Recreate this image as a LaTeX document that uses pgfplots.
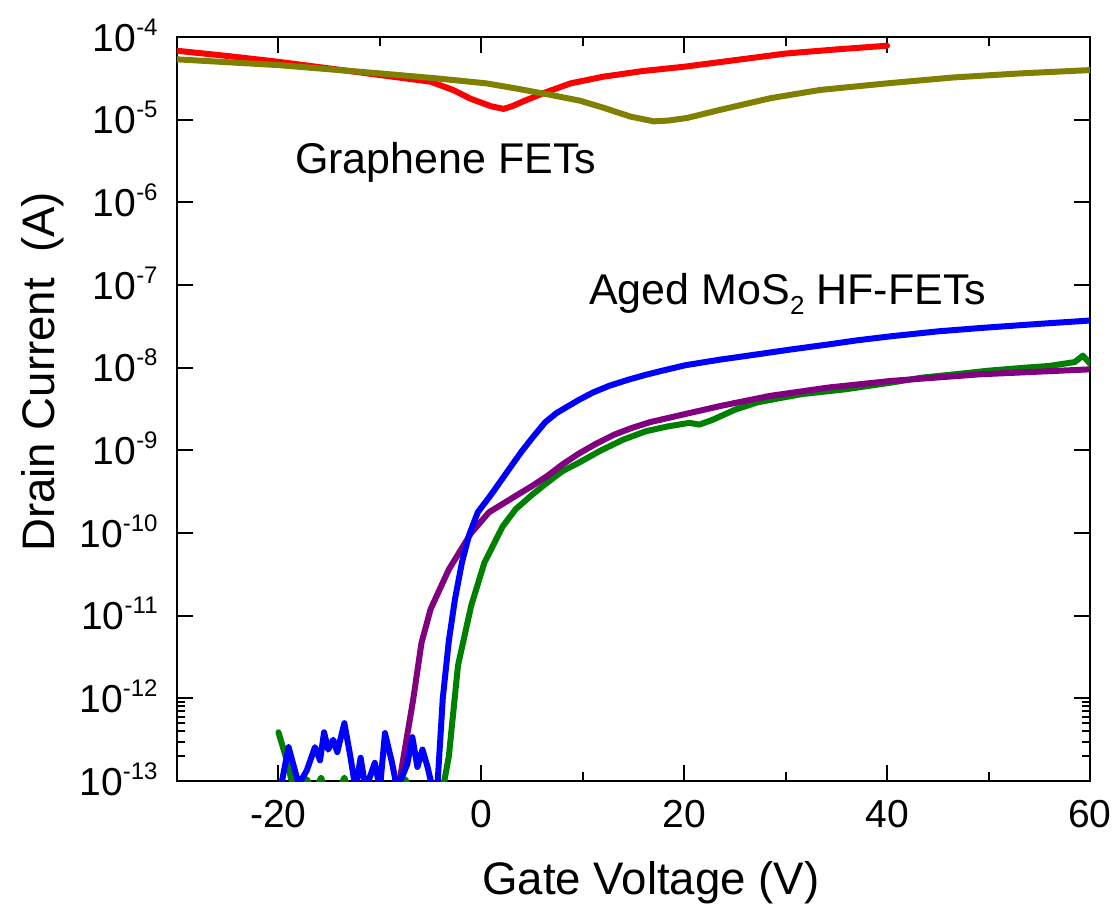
\documentclass[border=0pt]{standalone}
\usepackage{fontspec}
\setmainfont{Liberation Sans}
\usepackage{pgfplots}
\pgfplotsset{compat=1.18}

\definecolor{grred}{RGB}{255,0,0}
\definecolor{grolive}{RGB}{128,128,0}
\definecolor{mosblue}{RGB}{0,0,255}
\definecolor{mosgreen}{RGB}{0,128,0}
\definecolor{mospurple}{RGB}{128,0,128}

\newcommand{\expo}[1]{\raisebox{8pt}{\fontsize{12}{12}\selectfont #1}}
\tikzset{tickline/.style={black, line width=1pt, line cap=butt}}

\begin{document}
\begin{tikzpicture}
\begin{axis}[
  at={(0,0)}, anchor=south west,
  scale only axis,
  width=456.5pt, height=372pt,
  ymode=log, log basis y=10,
  xmin=-30, xmax=60,
  ymin=1e-13, ymax=1e-4,
  xtick={-20,0,20,40,60},
  xticklabels={-20,0,20,40,60},
  minor xtick={-10,10,30,50},
  ytickten={-13,-12,-11,-10,-9,-8,-7,-6,-5,-4},
  yticklabels={10\expo{-13},10\expo{-12},10\expo{-11},10\expo{-10},10\expo{-9},10\expo{-8},10\expo{-7},10\expo{-6},10\expo{-5},10\expo{-4}},
  tick label style={font=\fontsize{19.5}{22}\selectfont, inner sep=0pt},
  xticklabel style={anchor=north, yshift=-9.5pt},
  yticklabel style={anchor=base east, xshift=-9.5pt, yshift=-7pt},
  axis line style={line width=1.2pt},
  xlabel={Gate Voltage (V)},
  ylabel={Drain Current~ (A)},
  label style={font=\fontsize{22.8}{26}\selectfont},
  xlabel style={at={(axis description cs:0.519,-0.153)}, anchor=base},
  ylabel style={at={(axis description cs:-0.134,0.55)}, anchor=base},
  every axis plot/.append style={line width=3pt, line join=round, line cap=round},
]
% tick marks on all four sides (major 8pt, minor 4-4.5pt)
\pgfplotsinvokeforeach{-20,0,20,40}{
  \draw[tickline] (rel axis cs:{(#1+30)/90},0) -- (rel axis cs:{(#1+30)/90},0.0215);
  \draw[tickline] (rel axis cs:{(#1+30)/90},1) -- (rel axis cs:{(#1+30)/90},0.9785);
}
\pgfplotsinvokeforeach{-10,10,30,50}{
  \draw[tickline] (rel axis cs:{(#1+30)/90},0) -- (rel axis cs:{(#1+30)/90},0.0121);
  \draw[tickline] (rel axis cs:{(#1+30)/90},1) -- (rel axis cs:{(#1+30)/90},0.9879);
}
\pgfplotsinvokeforeach{1,2,3,4,5,6,7,8}{
  \draw[tickline] (rel axis cs:0,{#1/9}) -- (rel axis cs:0.0175,{#1/9});
  \draw[tickline] (rel axis cs:1,{#1/9}) -- (rel axis cs:0.9825,{#1/9});
}
\pgfplotsinvokeforeach{0,1,2,3,4,5,6,7,8}{
  \pgfplotsinvokeforeach{0.301,0.477,0.602,0.699,0.778,0.845,0.903,0.954}{
    \draw[tickline] (rel axis cs:0,{(#1+##1)/9}) -- (rel axis cs:0.0088,{(#1+##1)/9});
    \draw[tickline] (rel axis cs:1,{(#1+##1)/9}) -- (rel axis cs:0.9912,{(#1+##1)/9});
  }
}
% graphene FET 1
\addplot[grred] coordinates {
(-30,6.82e-5) (-25,5.89e-5) (-20,5.01e-5) (-15,4.17e-5) (-10,3.47e-5)
(-5,2.88e-5) (-2.8,2.29e-5) (-1,1.78e-5) (1,1.45e-5) (2.2,1.35e-5)
(3,1.45e-5) (4.1,1.66e-5) (6.1,2.09e-5) (8.8,2.75e-5) (12,3.31e-5)
(16,3.89e-5) (20,4.37e-5) (25,5.25e-5) (30,6.31e-5) (35,7.08e-5) (40,7.85e-5)
};
% graphene FET 2
\addplot[grolive] coordinates {
(-30,5.37e-5) (-20,4.57e-5) (-10,3.63e-5) (-4.4,3.16e-5) (0.5,2.75e-5)
(3.8,2.34e-5) (6.4,2.04e-5) (9.7,1.70e-5) (12,1.40e-5) (14.7,1.09e-5)
(17,9.55e-6) (18.5,9.77e-6) (20.3,1.05e-5) (23.6,1.32e-5) (28.5,1.82e-5)
(33.4,2.29e-5) (40,2.75e-5) (46.5,3.24e-5) (53.1,3.63e-5) (60,3.98e-5)
};
% aged MoS2 HF-FET, green
\addplot[mosgreen] coordinates {
(-20,3.89e-13) (-19.3,2e-13) (-18.6,9e-14) (-18,7e-14) (-17.2,1.05e-13)
(-16.5,7e-14) (-15.8,1.1e-13) (-15.2,7e-14) (-14,8e-14) (-13.5,1.1e-13)
(-13,7e-14) (-12,6e-14) (-9,7e-14) (-8.3,1.05e-13) (-7.9,8e-14)
(-7.5,1.05e-13) (-6.5,6e-14) (-4,7e-14) (-3.65,1e-13) (-3.2,2e-13)
(-2.3,2.5e-12) (-1,1.32e-11) (0.3,4.37e-11) (2.1,1.2e-10) (3.4,1.95e-10)
(5,2.9e-10) (6.5,4.07e-10) (8,5.6e-10) (9.6,7.08e-10) (11.8,1.0e-9)
(14,1.35e-9) (16.2,1.7e-9) (18.4,1.95e-9) (20.5,2.15e-9) (21.5,2.05e-9)
(22.8,2.34e-9) (25,3.1e-9) (27.2,3.8e-9) (29.5,4.3e-9) (31.6,4.79e-9) (36,5.5e-9)
(40.4,6.6e-9) (43.5,7.6e-9) (46.6,8.3e-9) (50,9.2e-9) (53.6,1e-8) (56,1.05e-8)
(58.5,1.17e-8) (59.3,1.4e-8) (60,1.12e-8)
};
% aged MoS2 HF-FET, purple
\addplot[mospurple] coordinates {
(-9,6e-14) (-8.06,1e-13) (-6.7,1e-12) (-5.9,4.68e-12) (-5,1.2e-11)
(-3.2,3.63e-11) (-1,1e-10) (0.75,1.78e-10) (3.4,2.82e-10) (5,3.7e-10)
(6.5,4.9e-10) (8,6.76e-10) (9.6,9.12e-10) (11.3,1.2e-9) (13.1,1.55e-9)
(14.8,1.86e-9) (16.6,2.19e-9) (20.1,2.75e-9) (23.7,3.47e-9)
(28.5,4.57e-9) (34.2,5.75e-9) (40.4,6.92e-9) (49.2,8.32e-9) (60,9.55e-9)
};
% aged MoS2 HF-FET, blue
\addplot[mosblue] coordinates {
(-20,6e-14) (-19,2.57e-13) (-18.2,1.12e-13) (-18,9e-14) (-17.2,1.35e-13)
(-16.4,2.57e-13) (-15.9,1.78e-13) (-15.5,3.89e-13) (-15.1,2.4e-13) (-14.6,3.16e-13)
(-14.2,2.24e-13) (-13.5,5.01e-13) (-12.9,1.95e-13) (-12.4,8e-14) (-11.9,1.91e-13)
(-11.4,8e-14) (-10.5,1.66e-13) (-10,8e-14) (-9.5,3.8e-13) (-8.8,1.66e-13)
(-8.3,8e-14) (-7.3,1.6e-13) (-6.8,3.39e-13) (-6.3,1.48e-13) (-5.8,2.4e-13)
(-5.3,1.48e-13) (-4.8,8e-14) (-4.5,7e-14) (-4.3,1e-13) (-3.8,1e-12)
(-3.2,5e-12) (-2.6,1.58e-11) (-1.9,4.47e-11) (-1.2,9.5e-11) (-0.35,1.78e-10)
(1,2.95e-10) (2.95,6.46e-10) (4,9.8e-10) (5.15,1.48e-9) (6.3,2.19e-9)
(7.4,2.82e-9) (8.5,3.39e-9) (9.6,4.07e-9) (11,5.01e-9) (12.6,6.03e-9)
(14.4,7.1e-9) (16.2,8.2e-9) (18,9.3e-9) (20.1,1.07e-8) (23.5,1.25e-8)
(27.2,1.45e-8) (30.5,1.66e-8) (34.2,1.91e-8) (37,2.14e-8) (40.4,2.4e-8)
(45,2.75e-8) (49.2,3.02e-8) (55,3.39e-8) (60,3.72e-8)
};
\node[anchor=base west, font=\fontsize{21.5}{24}\selectfont, inner sep=0pt]
  at (axis cs:-18.4,2.26e-6) {Graphene FETs};
\node[anchor=base west, font=\fontsize{21.5}{24}\selectfont, inner sep=0pt]
  at (axis cs:10.6,5.75e-8) {Aged MoS\raisebox{-5pt}{\fontsize{13}{13}\selectfont 2} HF-FETs};
\end{axis}
\path (-88.5pt,-63pt) rectangle (470.5pt,390.5pt);
\end{tikzpicture}
\end{document}
